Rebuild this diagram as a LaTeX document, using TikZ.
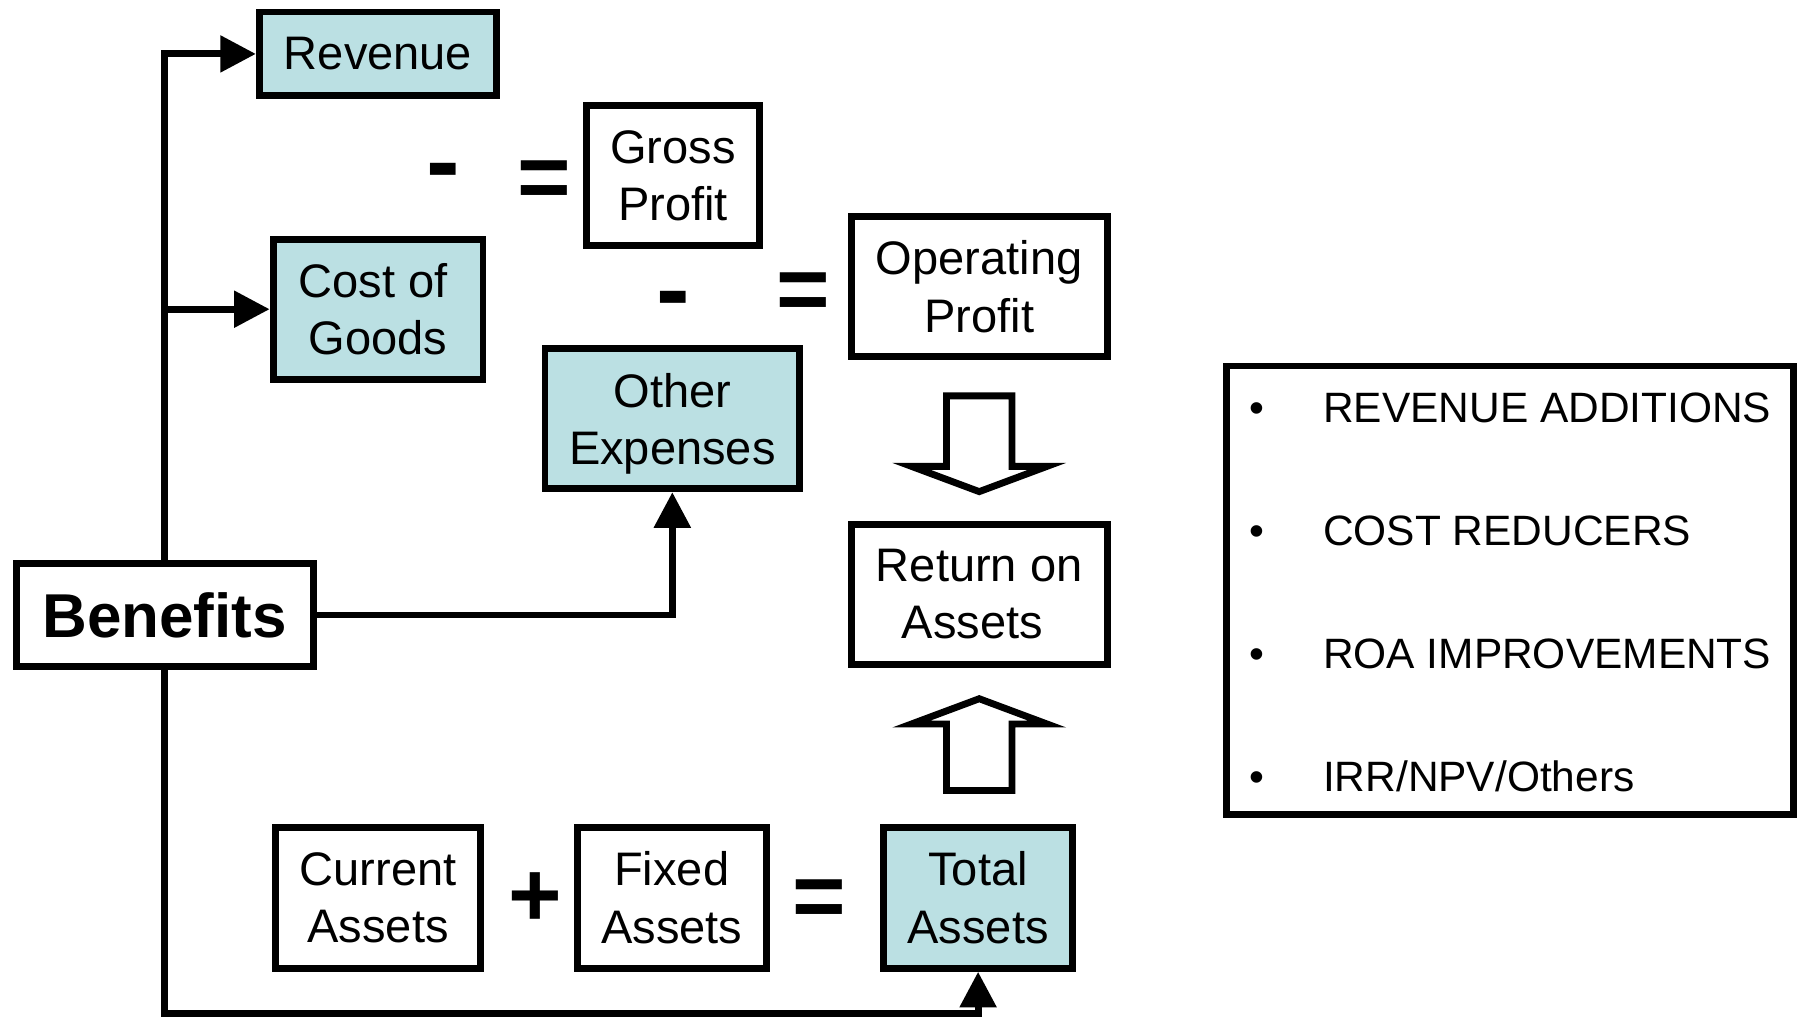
\documentclass[tikz,border=0pt]{standalone}
\usepackage{fontspec}
\setmainfont{Liberation Sans}
\usetikzlibrary{arrows.meta,calc}
\definecolor{paleteal}{RGB}{187,224,227}

\begin{document}
\begin{tikzpicture}[x=1pt,y=-1pt,
  box/.style={draw, line width=6pt, fill=white, align=center, inner sep=0pt,
              font=\fontsize{41}{50}\selectfont},
  shaded/.style={box, fill=paleteal},
  link/.style={line width=6pt, -{Triangle[length=31pt,width=31pt]}},
  sym/.style={inner sep=0pt, anchor=base, font=\bfseries\fontsize{80}{80}\selectfont},
  dash sym/.style={inner sep=0pt, anchor=base, font=\bfseries\fontsize{88}{88}\selectfont},
  item/.style={inner sep=0pt, anchor=base west, font=\fontsize{37}{44}\selectfont},
  dot/.style={inner sep=0pt, anchor=base, font=\fontsize{37}{44}\selectfont},
  hollow down/.pic={
    \draw[line width=6pt, fill=white, line join=miter]
      (-28.5,0) -- (-28.5,61.5) -- (-59,61.5) -- (0,83.5) -- (59,61.5)
      -- (28.5,61.5) -- (28.5,0) -- cycle;},
  hollow up/.pic={
    \draw[line width=6pt, fill=white, line join=miter]
      (0,0) -- (59,22) -- (28.5,22) -- (28.5,80) -- (-28.5,80)
      -- (-28.5,22) -- (-59,22) -- cycle;},
]
\useasboundingbox (0,0) rectangle (1568,886);

% income statement column
\node[shaded, minimum width=207, minimum height=73] (rev) at (329.5,47) {Revenue};
\node[shaded, minimum width=183, minimum height=122] (cog) at (329.5,269.5) {Cost of\hspace*{9pt}\\Goods};
\node[box, minimum width=151, minimum height=122] (gp) at (586.5,153) {Gross\\Profit};
\node[box, minimum width=223, minimum height=122] (op) at (853.5,250) {Operating\\Profit};
\node[shaded, minimum width=222, minimum height=122] (oe) at (586,365) {\rule{0pt}{39pt}Other\\Expenses};
\node[box, minimum width=223, minimum height=122] (roa) at (853.5,518) {Return on\\Assets\hspace*{12pt}};

% source of all benefits
\node[box, minimum width=259, minimum height=90,
      font=\bfseries\fontsize{54}{60}\selectfont] (ben) at (143.5,536) {Benefits};

% balance sheet row
\node[box, minimum width=179, minimum height=123] (ca) at (329.5,782.5) {Current\\Assets};
\node[box, minimum width=165, minimum height=123] (fa) at (585.5,782.5) {Fixed\\Assets};
\node[shaded, minimum width=165, minimum height=123] (ta) at (852.5,782.5) {Total\\Assets};

% operators
\node[dash sym] (m1) at (386,170.3) {-};
\node[sym] (e1) at (474,181.4) {=};
\node[dash sym] (m2) at (586.5,282) {-};
\node[sym] (e2) at (700,279.4) {=};
\node[sym] (p1) at (466.5,807.6) {+};
\node[sym] (e3) at (714.5,808.4) {=};

% hollow arrows into return on assets
\pic at ($(op.south)+(0,31)$) {hollow down};
\pic at ($(roa.south)+(0,27)$) {hollow up};

% connectors from benefits
\draw[link] (ben.north) |- (rev.west);
\draw[link] (ben.north |- cog.west) -- (cog.west);
\draw[link] (ben.east) -| (oe.south);
\coordinate (floor) at (852.5,883);
\draw[link] (ben.south) |- (floor) -- (ta.south);

% list of benefit types
\node[draw, line width=6pt, minimum width=494, minimum height=391, inner sep=0pt]
  (legend) at (1316,514.5) {};
\node[dot] (b1) at (1095.6,368) {•};
\node[item] (t1) at (1153,368) {REVENUE ADDITIONS};
\node[dot] (b2) at (1095.6,475.5) {•};
\node[item] (t2) at (1153,475.5) {COST REDUCERS};
\node[dot] (b3) at (1095.6,582.5) {•};
\node[item] (t3) at (1153,582.5) {ROA IMPROVEMENTS};
\node[dot] (b4) at (1095.6,690) {•};
\node[item] (t4) at (1153,690) {IRR/NPV/Others};
\end{tikzpicture}
\end{document}
